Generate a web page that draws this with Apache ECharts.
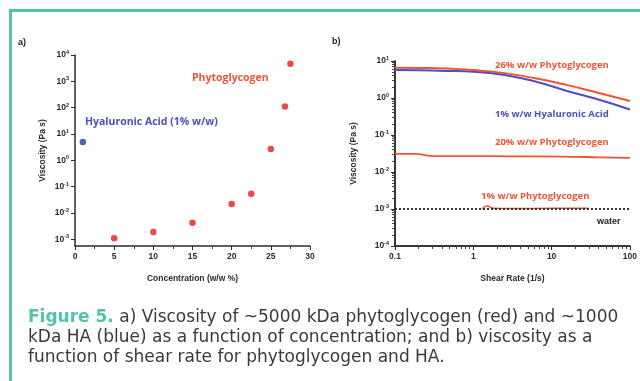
<!DOCTYPE html>
<html>
<head>
<meta charset="utf-8">
<script src="https://cdn.jsdelivr.net/npm/echarts@6/dist/echarts.min.js"></script>
<style>
  html, body { margin: 0; padding: 0; background: #fff; }
  #main { width: 640px; height: 381px; }
</style>
</head>
<body>
<div id="main"></div>
<script>
// a) viscosity vs concentration
const phytoConc = [5, 10, 15, 20, 22.5, 25, 26.8, 27.5];
const phytoVisc = [0.0011, 0.0019, 0.0043, 0.022, 0.054, 2.7, 110, 4700];
const haConc = [1];
const haVisc = [5];

// b) viscosity vs shear rate
const shear26 = [0.1, 0.2, 0.44, 1, 2.5, 6.2, 15, 35, 100];
const visc26 = [6.6, 6.5, 6.3, 5.7, 4.7, 3.4, 2.3, 1.48, 0.83];
const shearHA = [0.1, 0.2, 0.44, 1, 2.5, 6.2, 15, 35, 100];
const viscHA = [5.7, 5.6, 5.4, 5.1, 4.2, 2.8, 1.6, 0.98, 0.49];
const shear20 = [0.1, 0.18, 0.3, 1, 3, 13.5, 40, 100];
const visc20 = [0.031, 0.031, 0.027, 0.027, 0.0265, 0.026, 0.025, 0.024];
const shear1 = [1.3, 1.5, 1.8, 3, 10, 29];
const visc1 = [0.00102, 0.0012, 0.00105, 0.00103, 0.00104, 0.00105];
const shearWater = [0.1, 100];
const viscWater = [0.001, 0.001];

// tick labels
const decadesA = [0.001, 0.01, 0.1, 1, 10, 100, 1000, 10000];
const decadesB = [0.0001, 0.001, 0.01, 0.1, 1, 10];
const shearTicks = [0.1, 1, 10, 100];

const zip = (xs, ys) => xs.map((x, i) => [x, ys[i]]);
// minor log ticks (2..9 in every decade)
const logMinor = (lo, hi) => {
    let res = [];
    for (let d = lo; d < hi * 0.999; d *= 10) {
        for (let k = 2; k <= 9; k++) res.push(+(d * k).toPrecision(3));
    }
    return res;
};

const RED = '#ee5533';
const BLUE = '#4b4fbf';
const TEAL = '#52c3aa';
const AX = '#2b2b2b';

const powLabel = function(v) {
    let e = Math.round(Math.log10(v));
    return '{b|10}{e|' + e + '}';
};
const powRich = {
    b: { fontSize: 8.5, fontWeight: 'bold', color: AX, fontFamily: 'Liberation Sans', lineHeight: 11 },
    e: { fontSize: 5.5, fontWeight: 'bold', color: AX, fontFamily: 'Liberation Sans', verticalAlign: 'top', lineHeight: 11 }
};
const nameStyle = { fontSize: 8.5, fontWeight: 'bold', color: AX, fontFamily: 'Liberation Sans' };
const lineAx = { lineStyle: { color: AX, width: 1.5 } };
const tickAx = { show: true, length: 4, lineStyle: { color: AX, width: 1 } };
const minorTick = { show: true, length: 3, lineStyle: { color: '#444', width: 1 } };

let myChart = echarts.init(document.getElementById('main'), null, { renderer: 'canvas' });

let option = {
    backgroundColor: '#fff',
    animation: false,
    grid: [
        { left: 75, top: 55, width: 235, height: 191 },
        { left: 395, top: 61, width: 235, height: 185 }
    ],
    xAxis: [
        {
            gridIndex: 0, type: 'value', min: 0, max: 30, interval: 5, position: 'bottom',
            axisLine: lineAx, axisTick: tickAx,
            minorTick: { show: true, splitNumber: 2, length: 3, lineStyle: { color: '#444' } },
            splitLine: { show: false },
            axisLabel: { fontSize: 8.5, fontWeight: 'bold', color: AX, fontFamily: 'Liberation Sans', margin: 6 },
            name: 'Concentration (w/w %)', nameLocation: 'middle', nameGap: 28, nameTextStyle: nameStyle
        },
        {
            // minor ticks of the shear axis (drawn first, underneath the main axis)
            gridIndex: 1, type: 'log', min: 0.1, max: 100, position: 'bottom',
            axisLine: { show: true, lineStyle: { color: AX, width: 1.5 } },
            axisTick: Object.assign({ customValues: logMinor(0.1, 100) }, minorTick),
            axisLabel: { show: true, customValues: logMinor(0.1, 100), formatter: () => '' },
            splitLine: { show: false }
        },
        {
            gridIndex: 1, type: 'log', min: 0.1, max: 100, position: 'bottom',
            axisLine: lineAx,
            axisTick: Object.assign({ customValues: shearTicks }, tickAx),
            splitLine: { show: false },
            axisLabel: { customValues: shearTicks, fontSize: 8.5, fontWeight: 'bold', color: AX, fontFamily: 'Liberation Sans', margin: 6 },
            name: 'Shear Rate (1/s)', nameLocation: 'middle', nameGap: 28, nameTextStyle: nameStyle
        }
    ],
    yAxis: [
        {
            gridIndex: 0, type: 'log', min: 0.00056, max: 10000, position: 'left',
            axisLine: Object.assign({ show: true }, lineAx),
            axisTick: Object.assign({ customValues: decadesA }, tickAx),
            splitLine: { show: false },
            axisLabel: { customValues: decadesA, formatter: powLabel, rich: powRich, margin: 6 },
            name: 'Viscosity (Pa s)', nameLocation: 'middle', nameGap: 28, nameTextStyle: nameStyle
        },
        {
            gridIndex: 1, type: 'log', min: 0.0001, max: 10, position: 'left',
            axisLine: { show: true, lineStyle: { color: AX, width: 1.5 } },
            axisTick: Object.assign({ customValues: logMinor(0.0001, 10) }, minorTick),
            axisLabel: { show: true, customValues: logMinor(0.0001, 10), formatter: () => '' },
            splitLine: { show: false }
        },
        {
            gridIndex: 1, type: 'log', min: 0.0001, max: 10, position: 'left',
            axisLine: Object.assign({ show: true }, lineAx),
            axisTick: Object.assign({ customValues: decadesB }, tickAx),
            splitLine: { show: false },
            axisLabel: { customValues: decadesB, formatter: powLabel, rich: powRich, margin: 6 },
            name: 'Viscosity (Pa s)', nameLocation: 'middle', nameGap: 37, nameTextStyle: nameStyle
        }
    ],
    series: [
        {
            name: 'Phytoglycogen', type: 'scatter', xAxisIndex: 0, yAxisIndex: 0,
            symbolSize: 6.5, itemStyle: { color: '#ea1c1c' },
            data: zip(phytoConc, phytoVisc)
        },
        {
            name: 'Hyaluronic Acid', type: 'scatter', xAxisIndex: 0, yAxisIndex: 0,
            symbolSize: 6.5, itemStyle: { color: '#2a3aa6' },
            data: zip(haConc, haVisc)
        },
        {
            name: '1% w/w Hyaluronic Acid', type: 'line', xAxisIndex: 2, yAxisIndex: 2,
            smooth: true, showSymbol: false, lineStyle: { color: BLUE, width: 2 },
            data: zip(shearHA, viscHA)
        },
        {
            name: '26% w/w Phytoglycogen', type: 'line', xAxisIndex: 2, yAxisIndex: 2,
            smooth: true, showSymbol: false, lineStyle: { color: RED, width: 2 },
            data: zip(shear26, visc26)
        },
        {
            name: '20% w/w Phytoglycogen', type: 'line', xAxisIndex: 2, yAxisIndex: 2,
            smooth: true, showSymbol: false, lineStyle: { color: RED, width: 1.8 },
            data: zip(shear20, visc20)
        },
        {
            name: '1% w/w Phytoglycogen', type: 'line', xAxisIndex: 2, yAxisIndex: 2,
            smooth: true, showSymbol: false, lineStyle: { color: RED, width: 1.5 },
            data: zip(shear1, visc1)
        },
        {
            name: 'water', type: 'line', xAxisIndex: 2, yAxisIndex: 2, z: 5,
            showSymbol: false, lineStyle: { color: '#333', width: 2, type: [2, 2] },
            data: zip(shearWater, viscWater)
        }
    ],
    graphic: [
        // frame
        { type: 'rect', shape: { x: 9, y: 9, width: 640, height: 3 }, style: { fill: TEAL } },
        { type: 'rect', shape: { x: 9, y: 9, width: 3, height: 381 }, style: { fill: TEAL } },
        // panel letters
        { type: 'text', x: 18, y: 38, style: { text: 'a)', font: 'bold 9px "Liberation Sans"', fill: '#222' } },
        { type: 'text', x: 332, y: 37, style: { text: 'b)', font: 'bold 9px "Liberation Sans"', fill: '#222' } },
        // annotations a)
        { type: 'text', x: 192, y: 73, style: { text: 'Phytoglycogen', font: 'bold 10.5px "Open Sans"', fill: RED } },
        { type: 'text', x: 85, y: 117, style: { text: 'Hyaluronic Acid (1% w/w)', font: 'bold 10.5px "Open Sans"', fill: BLUE } },
        // annotations b)
        { type: 'text', x: 495, y: 60, style: { text: '26% w/w Phytoglycogen', font: 'bold 9.5px "Open Sans"', fill: RED } },
        { type: 'text', x: 495, y: 109, style: { text: '1% w/w Hyaluronic Acid', font: 'bold 9.5px "Open Sans"', fill: BLUE } },
        { type: 'text', x: 495, y: 137, style: { text: '20% w/w Phytoglycogen', font: 'bold 9.5px "Open Sans"', fill: RED } },
        { type: 'text', x: 481, y: 191, style: { text: '1% w/w Phytoglycogen', font: 'bold 9.5px "Open Sans"', fill: RED } },
        { type: 'text', x: 597, y: 217, style: { text: 'water', font: 'bold 9px "Liberation Sans"', fill: '#222' } },
        // caption
        {
            type: 'text', x: 28, y: 308,
            style: {
                text: '{f|Figure 5.} a) Viscosity of ~5000 kDa phytoglycogen (red) and ~1000\nkDa HA (blue) as a function of concentration; and b) viscosity as a\nfunction of shear rate for phytoglycogen and HA.',
                fontSize: 17, fontFamily: 'DejaVu Sans', fill: '#3a3a3a', lineHeight: 20,
                rich: { f: { fill: TEAL, fontWeight: 'bold', fontSize: 17, fontFamily: 'DejaVu Sans' } }
            }
        }
    ]
};

myChart.setOption(option);
</script>
</body>
</html>
